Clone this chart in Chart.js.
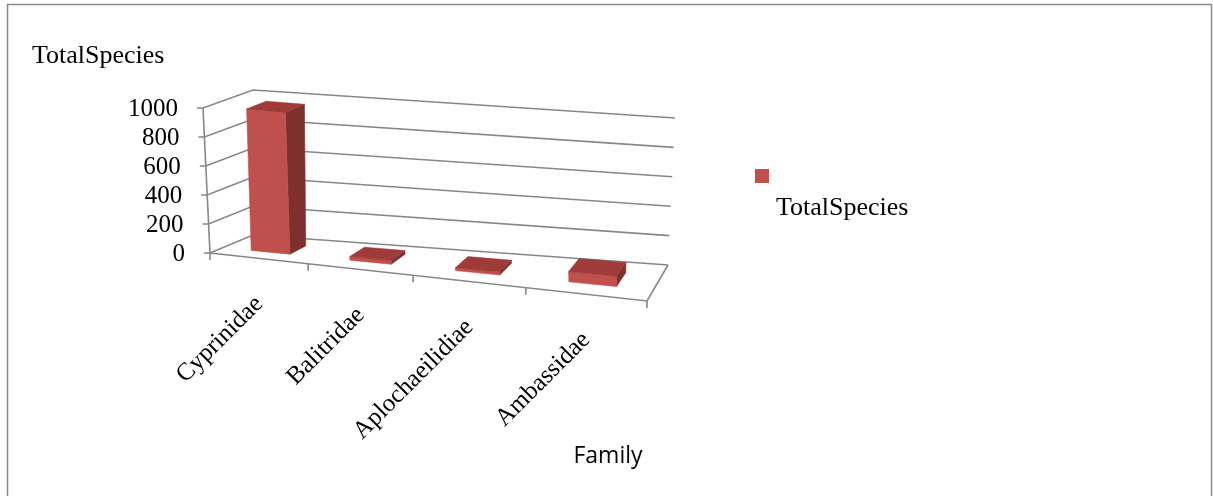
<!DOCTYPE html>
<html>
<head>
<meta charset="utf-8">
<script src="https://cdn.jsdelivr.net/npm/chart.js@4.4.1/dist/chart.umd.min.js"></script>
<style>
  html, body { margin: 0; padding: 0; background: #ffffff; overflow: hidden; }
  canvas { display: block; }
</style>
</head>
<body>
<canvas id="chart" width="1213" height="496"></canvas>
<script>
// ---- data ----
const families = ['Cyprinidae', 'Balitridae', 'Aplochaeilidiae', 'Ambassidae'];
const totalSpecies = [975, 25, 20, 70];
const valueTicks = [0, 200, 400, 600, 800, 1000];
const seriesName = 'TotalSpecies';
const categoryTitle = 'Family';

// ---- look ----
const SERIF = '"Liberation Serif", "Times New Roman", serif';
const SANS = '"Open Sans", "Liberation Sans", sans-serif';
const FACE_FRONT = '#c0504d';
const FACE_TOP = '#9f3b38';
const FACE_SIDE = '#7e302e';
const GRID = '#878787';

// Corners of the 3-D plot box on screen: f/b = front/back, b/t = bottom/top, l/r = left/right
const BOX = {
  fbl: [210, 253], ftl: [203, 108], fbr: [647, 301], ftr: [640, 155],
  bbl: [253, 235], btl: [253, 90],  bbr: [668, 265], btr: [675, 118]
};
const PERSPECTIVE = 0.869;       // foreshortening along the category direction
const DEPTH_FRONT = 0.3, DEPTH_BACK = 0.7;   // bar depth inside the floor

function warp(u) { return PERSPECTIVE * u / (1 + (PERSPECTIVE - 1) * u); }
function mix(a, b, t) { return [a[0] + (b[0] - a[0]) * t, a[1] + (b[1] - a[1]) * t]; }
// u: 0..1 across categories, v: 0..1 up the value axis, w: 0 front .. 1 back
function project(u, v, w) {
  const s = warp(u);
  const fb = mix(BOX.fbl, BOX.fbr, s), ft = mix(BOX.ftl, BOX.ftr, s);
  const bb = mix(BOX.bbl, BOX.bbr, s), bt = mix(BOX.btl, BOX.btr, s);
  return mix(mix(fb, ft, v), mix(bb, bt, v), w);
}

function polyline(ctx, pts) {
  ctx.beginPath();
  ctx.moveTo(pts[0][0], pts[0][1]);
  for (let i = 1; i < pts.length; i++) ctx.lineTo(pts[i][0], pts[i][1]);
}

const box3d = {
  id: 'box3d',
  beforeDraw(chart) {
    const ctx = chart.ctx;
    const ys = chart.scales.y, xs = chart.scales.x;
    const vOf = px => (ys.bottom - px) / (ys.bottom - ys.top);

    ctx.save();
    // frame around the whole chart
    ctx.strokeStyle = '#8a8a8a';
    ctx.lineWidth = 1.5;
    ctx.strokeRect(7.5, 4.5, 1204, 500);

    // value gridlines: along the left wall, then across the back wall
    ctx.strokeStyle = GRID;
    ctx.lineWidth = 1.6;
    valueTicks.forEach(t => {
      const v = vOf(ys.getPixelForValue(t));
      const p0 = project(0, v, 0);
      polyline(ctx, [[p0[0] - 6, p0[1]], p0, project(0, v, 1), project(1, v, 1)]);
      ctx.stroke();
    });
    // value axis
    polyline(ctx, [project(0, 0, 0), project(0, 1, 0)]);
    ctx.stroke();
    // floor front and right edges
    polyline(ctx, [project(0, 0, 0), project(1, 0, 0), project(1, 0, 1)]);
    ctx.stroke();
    // category tick marks
    const n = xs.getLabels().length;
    for (let i = 0; i <= n; i++) {
      const p = project(i / n, 0, 0);
      polyline(ctx, [p, [p[0], p[1] + 7]]);
      ctx.stroke();
    }
    ctx.restore();
  },
  afterDatasetsDraw(chart) {
    const ctx = chart.ctx;
    const ys = chart.scales.y, xs = chart.scales.x;
    const uOf = px => (px - xs.left) / (xs.right - xs.left);
    const vOf = px => (ys.bottom - px) / (ys.bottom - ys.top);
    const meta = chart.getDatasetMeta(0);

    ctx.save();
    // 3-D columns built from the bar elements Chart.js laid out
    meta.data.forEach(el => {
      const b = el.getProps(['x', 'y', 'base', 'width'], true);
      const uL = uOf(b.x - b.width / 2), uR = uOf(b.x + b.width / 2);
      const v0 = vOf(b.base), v1 = vOf(b.y);
      const w0 = DEPTH_FRONT, w1 = DEPTH_BACK;
      const faces = [
        [FACE_SIDE, [project(uR, v0, w0), project(uR, v0, w1), project(uR, v1, w1), project(uR, v1, w0)]],
        [FACE_FRONT, [project(uL, v0, w0), project(uR, v0, w0), project(uR, v1, w0), project(uL, v1, w0)]],
        [FACE_TOP, [project(uL, v1, w0), project(uR, v1, w0), project(uR, v1, w1), project(uL, v1, w1)]]
      ];
      faces.forEach(([col, pts]) => {
        polyline(ctx, pts);
        ctx.closePath();
        ctx.fillStyle = col;
        ctx.fill();
        ctx.strokeStyle = col;
        ctx.lineWidth = 0.6;
        ctx.stroke();
      });
    });

    ctx.fillStyle = '#000000';
    // value tick labels
    ctx.font = '25px ' + SERIF;
    ctx.textAlign = 'right';
    ctx.textBaseline = 'middle';
    valueTicks.forEach(t => {
      const p = project(0, vOf(ys.getPixelForValue(t)), 0);
      ctx.fillText(String(t), p[0] - 25, p[1] + 1);
    });

    // category labels, slanted
    const labels = xs.getLabels();
    labels.forEach((lab, i) => {
      const u = uOf(xs.getPixelForValue(i));
      const p = project(u, 0, 0);
      ctx.save();
      ctx.translate(p[0] + 1, p[1] + 42);
      ctx.rotate(-Math.PI / 4);
      ctx.textAlign = 'right';
      ctx.textBaseline = 'middle';
      ctx.fillText(lab, 0, 0);
      ctx.restore();
    });

    // chart title
    ctx.textAlign = 'left';
    ctx.textBaseline = 'alphabetic';
    ctx.font = '26px ' + SERIF;
    ctx.fillText(chart.data.datasets[0].label, 32, 63);

    // legend
    ctx.fillStyle = FACE_FRONT;
    ctx.fillRect(755, 169, 14, 14);
    ctx.fillStyle = '#000000';
    ctx.fillText(chart.data.datasets[0].label, 776, 215);

    // category axis title
    ctx.font = '23px ' + SANS;
    ctx.textAlign = 'center';
    ctx.fillText(categoryTitle, 608, 463);
    ctx.restore();
  }
};

new Chart(document.getElementById('chart'), {
  type: 'bar',
  data: {
    labels: families,
    datasets: [{
      label: seriesName,
      data: totalSpecies,
      backgroundColor: 'rgba(0,0,0,0)',
      borderWidth: 0,
      barPercentage: 0.4,
      categoryPercentage: 1.0
    }]
  },
  options: {
    responsive: false,
    animation: false,
    events: [],
    layout: { padding: { left: 203, right: 573, top: 108, bottom: 243 } },
    plugins: { legend: { display: false }, title: { display: false }, tooltip: { enabled: false } },
    scales: {
      x: { display: false },
      y: { display: false, min: 0, max: 1000, ticks: { stepSize: 200 } }
    }
  },
  plugins: [box3d]
});
</script>
</body>
</html>
